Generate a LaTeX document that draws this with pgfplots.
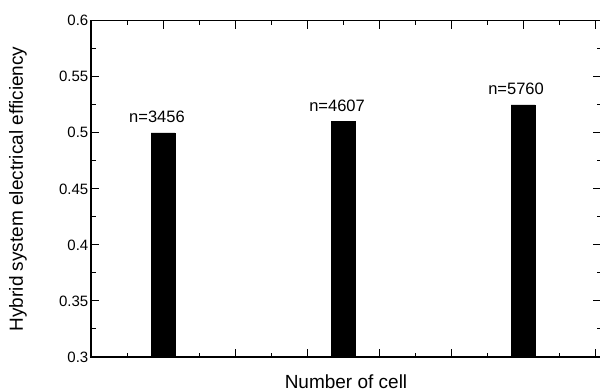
\documentclass[border=0pt]{standalone}
\usepackage{pgfplots}
\pgfplotsset{compat=1.18}
\usepackage{fontspec}
\setmainfont{Liberation Sans}

\begin{document}
\begin{tikzpicture}
\useasboundingbox (0,0) rectangle (600pt,391pt);
\begin{axis}[
  at={(91pt,34pt)}, anchor=south west,
  scale only axis,
  width=510pt, height=336.3pt,
  xmin=0.6, xmax=3.433,
  ymin=0.3, ymax=0.6,
  axis line style={line width=1.3pt},
  tick style={line width=1pt, black},
  tick align=inside,
  major tick length=8pt,
  minor tick length=4.5pt,
  xtick={0.6,1.0,1.4,1.8,2.2,2.6,3.0,3.4},
  xticklabels={},
  minor x tick num=1,
  ytick={0.3,0.35,0.4,0.45,0.5,0.55,0.6},
  minor y tick num=1,
  every tick label/.append style={font=\fontsize{15}{17}\selectfont},
  yticklabel style={inner sep=2.5pt},
  /pgf/number format/fixed,
  /pgf/number format/precision=2,
  /pgf/number format/assume math mode=true,
  every axis y label/.style={at={(axis description cs:-0.143,0.5)},
    anchor=center, rotate=90},
  every axis x label/.style={at={(axis description cs:0.5,-0.0931)},
    anchor=base},
  label style={font=\fontsize{19}{22}\selectfont},
  xlabel={Number of cell},
  ylabel={Hybrid system electrical efficiency},
  clip=false,
]
\addplot[ybar, bar width=0.133, fill=black, draw=black]
  coordinates {(1,0.5) (2,0.51) (3,0.525)};
\node[anchor=base, xshift=-6pt, yshift=10pt, font=\fontsize{16.5}{19}\selectfont]
  at (axis cs:1,0.5) {n=3456};
\node[anchor=base, xshift=-6pt, yshift=10pt, font=\fontsize{16.5}{19}\selectfont]
  at (axis cs:2,0.51) {n=4607};
\node[anchor=base, xshift=-7pt, yshift=10pt, font=\fontsize{16.5}{19}\selectfont]
  at (axis cs:3,0.525) {n=5760};
\end{axis}
\end{tikzpicture}
\end{document}
